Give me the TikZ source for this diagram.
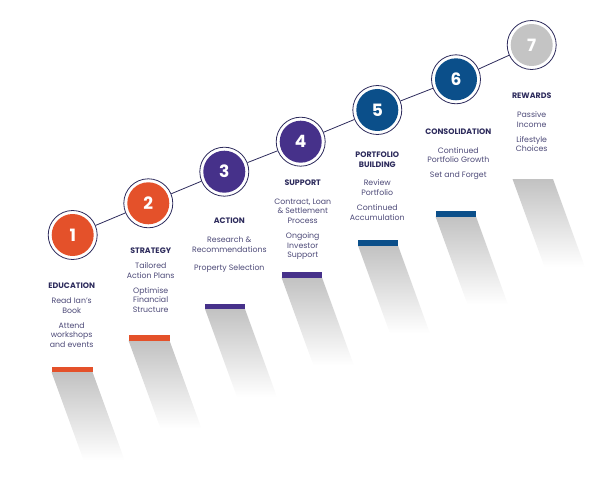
\documentclass[tikz,border=0pt]{standalone}
\usepackage{fontspec}
\setmainfont{Poppins}
\usepackage{tikz}
\usetikzlibrary{positioning}
\definecolor{stepred}{HTML}{E4512A}
\definecolor{steppurple}{HTML}{46318A}
\definecolor{stepblue}{HTML}{0B4F8A}
\definecolor{stepgrey}{HTML}{C4C4C4}
\definecolor{ink}{HTML}{2D2B5C}
\definecolor{bodyink}{HTML}{4D4A78}

\begin{document}
\begin{tikzpicture}[x=1pt, y=-1pt,
  ring/.style={circle, draw=ink, line width=0.8pt, fill=white, minimum size=49pt, inner sep=0pt},
  num/.style={circle, minimum size=42pt, inner sep=0pt, text=white,
              font=\fontsize{17}{17}\selectfont\bfseries},
  head/.style={align=center, inner sep=0pt, text=ink, font=\fontsize{7.9}{9.4}\selectfont\bfseries},
  txt/.style={align=center, inner sep=0pt, anchor=north, text=bodyink,
              font=\fontsize{7.8}{9.6}\selectfont},
  shadow/.style={top color=gray!48, bottom color=white},
  link/.style={draw=ink, line width=0.8pt}]
  \useasboundingbox (0,0) rectangle (595,495);
  % shadows under the steps, slanted to the right
  \shade[shadow] (51.5,372) -- (92.5,372) -- (124.5,460) -- (83.5,460) -- cycle;
  \shade[shadow] (128.5,340.5) -- (169.5,340.5) -- (201.5,428.5) -- (160.5,428.5) -- cycle;
  \shade[shadow] (205,309) -- (245,309) -- (277,397) -- (237,397) -- cycle;
  \shade[shadow] (281.5,277.5) -- (322,277.5) -- (354,365.5) -- (313.5,365.5) -- cycle;
  \shade[shadow] (358,245.5) -- (398,245.5) -- (430,333.5) -- (390,333.5) -- cycle;
  \shade[shadow] (435.5,216.5) -- (476,216.5) -- (508,304.5) -- (467.5,304.5) -- cycle;
  \shade[shadow] (512.5,179) -- (553,179) -- (585,267) -- (544.5,267) -- cycle;
  \fill[stepred]    (51.5,366.5) rectangle (92.5,372);
  \fill[stepred]    (128.5,335) rectangle (169.5,340.5);
  \fill[steppurple] (205,303.5) rectangle (245,309);
  \fill[steppurple] (281.5,272) rectangle (322,277.5);
  \fill[stepblue]   (358,240) rectangle (398,245.5);
  \fill[stepblue]   (435.5,211) rectangle (476,216.5);
  % numbered circles, 76.5 apart
  \node[ring] (r1) at (72.7,235)  {};
  \node[ring] (r2) at (148.3,203.3) {};
  \node[ring] (r3) at (224.3,171.7) {};
  \node[ring] (r4) at (300.7,141.7) {};
  \node[ring] (r5) at (377.3,110) {};
  \node[ring] (r6) at (456,79.3) {};
  \node[ring] (r7) at (531.7,45) {};
  \node[num, fill=stepred]    (n1) at (r1) {1};
  \node[num, fill=stepred]    (n2) at (r2) {2};
  \node[num, fill=steppurple] (n3) at (r3) {3};
  \node[num, fill=steppurple] (n4) at (r4) {4};
  \node[num, fill=stepblue]   (n5) at (r5) {5};
  \node[num, fill=stepblue]   (n6) at (r6) {6};
  \node[num, fill=stepgrey]   (n7) at (r7) {7};
  \draw[link] (r1) -- (r2);
  \draw[link] (r2) -- (r3);
  \draw[link] (r3) -- (r4);
  \draw[link] (r4) -- (r5);
  \draw[link] (r5) -- (r6);
  \draw[link] (r6) -- (r7);
  % headings and notes
  \node[head] (h1) at (71.7,286)   {EDUCATION};
  \node[head] (h2) at (150.7,250.7) {STRATEGY};
  \node[head] (h3) at (229.3,221)  {ACTION};
  \node[head] (h4) at (302.7,182.7) {SUPPORT};
  \node[head] (h5) at (377.3,159.7) {PORTFOLIO\\BUILDING};
  \node[head] (h6) at (458.3,132)  {CONSOLIDATION};
  \node[head] (h7) at (531.7,96)   {REWARDS};
  \node[txt] (t1) at (71.7,297.5)  {Read Ian’s\\Book\\[5.5pt]Attend\\workshops\\and events};
  \node[txt] (t2) at (150.7,262.5) {Tailored\\Action Plans\\[5.5pt]Optimise\\Financial\\Structure};
  \node[txt] (t3) at (229.3,236.5) {Research \&\\Recommendations\\[9pt]Property Selection};
  \node[txt] (t4) at (302.7,198.5) {Contract, Loan\\\& Settlement\\Process\\[5.5pt]Ongoing\\Investor\\Support};
  \node[txt] (t5) at (377.3,179.8) {Review\\Portfolio\\[5.5pt]Continued\\Accumulation};
  \node[txt] (t6) at (458.3,147.1) {Continued\\Portfolio Growth\\[5.5pt]Set and Forget};
  \node[txt] (t7) at (531.7,111.5) {Passive\\Income\\[5.5pt]Lifestyle\\Choices};
\end{tikzpicture}
\end{document}
